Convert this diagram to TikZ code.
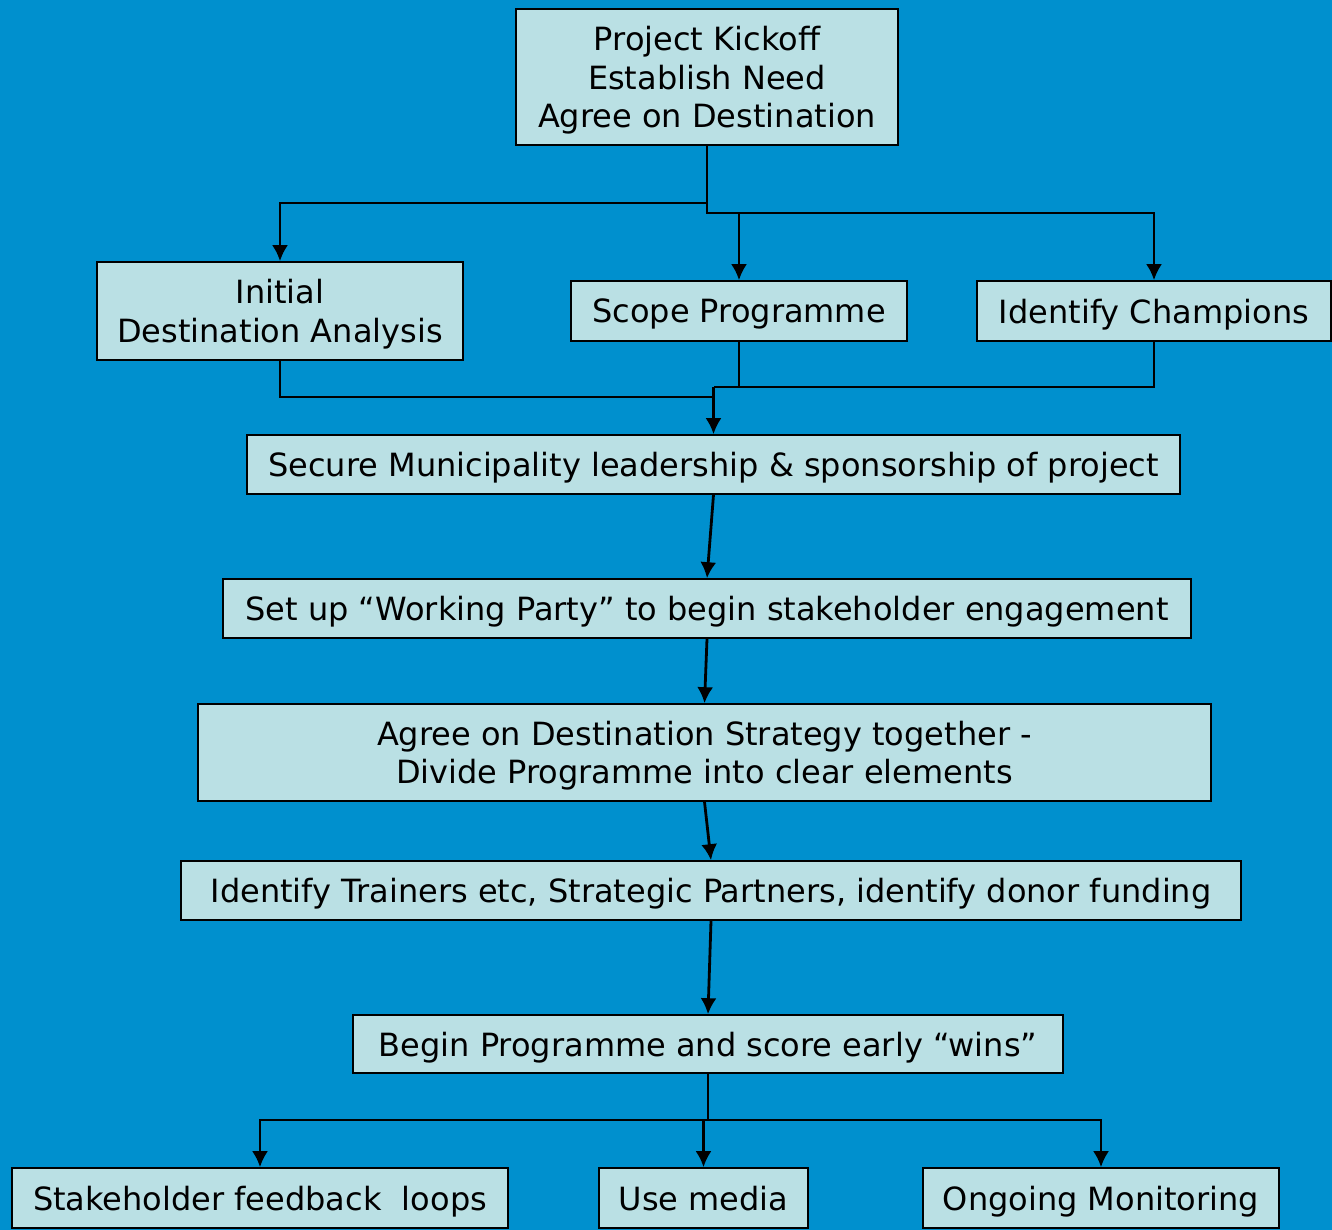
\documentclass[tikz,border=0pt]{standalone}
\usepackage{fontspec}
\setmainfont{DejaVu Sans}
\usetikzlibrary{arrows.meta}
\definecolor{bgblue}{RGB}{0,144,206}
\definecolor{boxfill}{RGB}{186,224,228}
\tikzset{>={Latex[length=16pt,width=16pt]}}
\tikzset{
  box/.style={draw=black, fill=boxfill, line width=1.6pt, inner sep=0pt, text depth=0pt,
    align=center, font=\fontsize{32}{38.5}\selectfont},
  link/.style={line width=2.8pt}
}

\begin{document}
\begin{tikzpicture}[x=1pt,y=-1pt]
            \fill[bgblue] (0,0) rectangle (1332,1230);
            \useasboundingbox (0,0) rectangle (1332,1230);
            \node[box, minimum width=382pt, minimum height=136pt] (kickoff) at (707,77)
                {Project Kickoff\\Establish Need\\Agree on Destination};
            \node[box, minimum width=366pt, minimum height=98pt] (initial) at (280,311)
                {Initial\\Destination Analysis};
            \node[box, minimum width=336pt, minimum height=60pt] (scope) at (739,311) {Scope Programme};
            \node[box, minimum width=354pt, minimum height=60pt] (champions) at (1154,311) {Identify Champions};
            \node[box, minimum width=933pt, minimum height=59pt] (secure) at (713.5,464.5)
                {Secure Municipality leadership \& sponsorship of project};
            \node[box, minimum width=968pt, minimum height=59pt] (setup) at (707,608.5)
                {Set up “Working Party” to begin stakeholder engagement};
            \node[box, minimum width=1013pt, minimum height=97pt] (agree) at (704.5,752.5)
                {Agree on Destination Strategy together -\\Divide Programme into clear elements};
            \node[box, minimum width=1060pt, minimum height=59pt] (trainers) at (711,890.5)
                {Identify Trainers etc, Strategic Partners, identify donor funding};
            \node[box, minimum width=710pt, minimum height=58pt] (begin) at (708,1044)
                {Begin Programme and score early “wins”};
            \node[box, minimum width=496pt, minimum height=60pt] (feedback) at (260,1198)
                {Stakeholder feedback \ loops};
            \node[box, minimum width=209pt, minimum height=60pt] (media) at (703.5,1198) {Use media};
            \node[box, minimum width=356pt, minimum height=60pt] (ongoing) at (1101,1198) {Ongoing Monitoring};
            \coordinate (splitA) at (707,203);
            \coordinate (splitB) at (707,213);
            \coordinate (joinA) at (713.5,397);
            \coordinate (joinB) at (713.5,387);
            \coordinate (fan) at (708,1120);
            \draw[link,->] (kickoff.south) -- (splitA) -| (initial.north);
            \draw[link,->] (splitA) -- (splitB) -| (champions.north);
            \draw[link,->] (splitB -| scope.north) -- (scope.north);
            \draw[link] (initial.south) |- (joinA);
            \draw[link] (scope.south) -- (scope.south |- joinB);
            \draw[link] (champions.south) |- (joinB);
            \draw[link,->] (joinB) -- (secure.north);
            \foreach \a/\b in {secure/setup,setup/agree,agree/trainers,trainers/begin}
                \draw[link,->] (\a.south) -- (\b.north);
            \draw[link] (begin.south) -- (fan);
            \foreach \n in {feedback,media,ongoing}
                \draw[link,->] (fan) -| (\n.north);
        \end{tikzpicture}
\end{document}
